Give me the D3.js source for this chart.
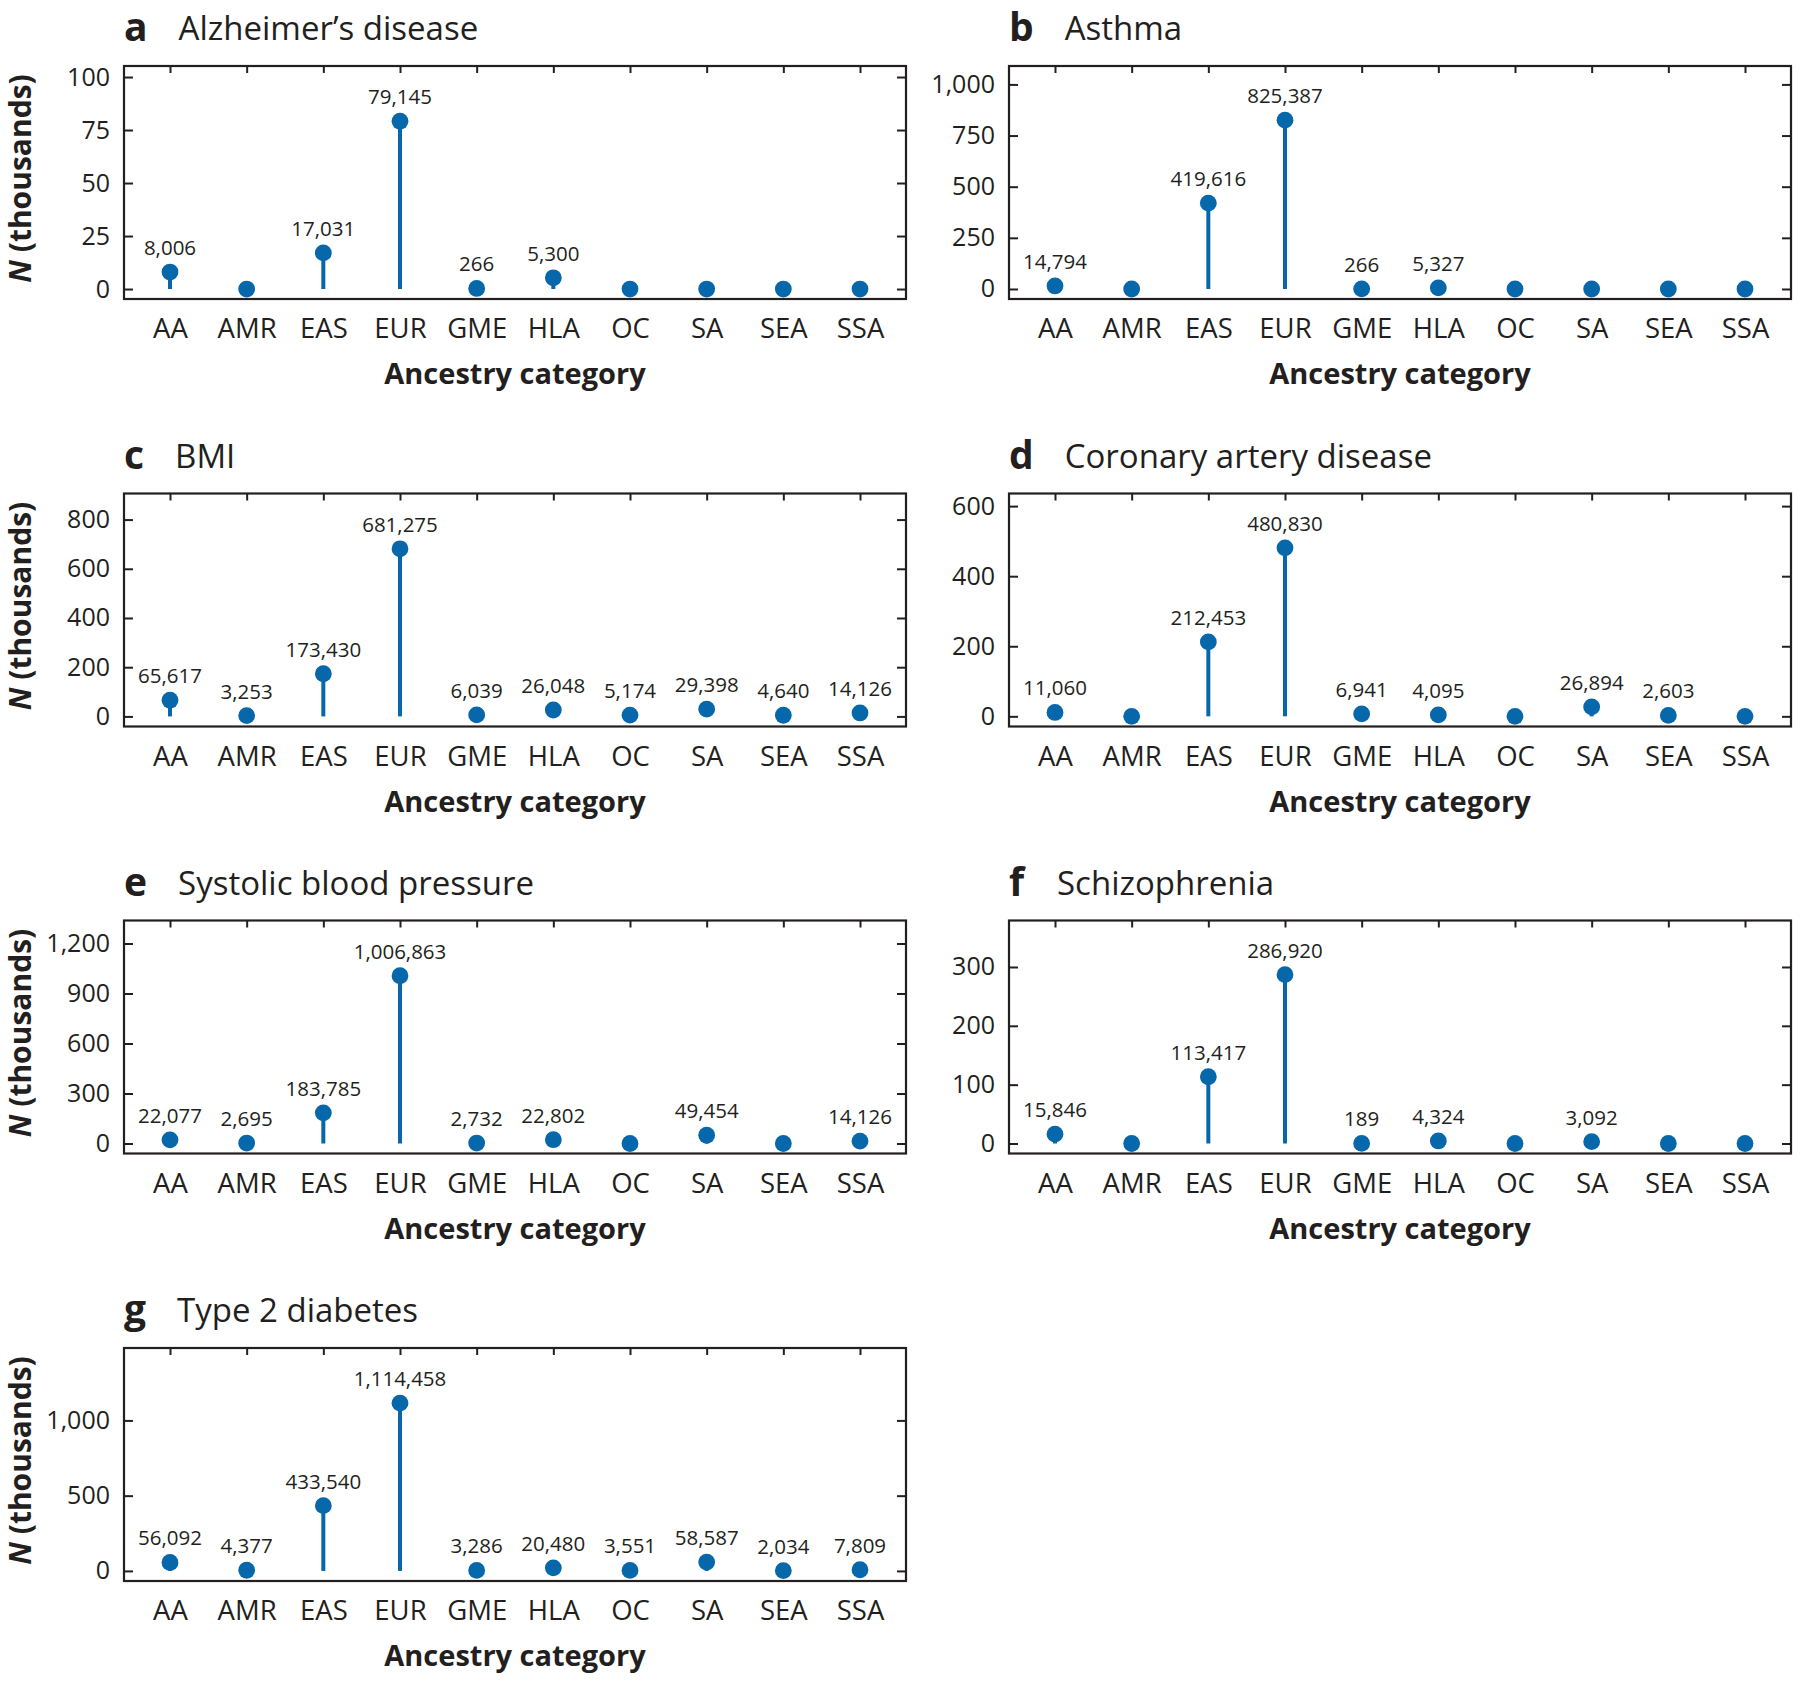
<!DOCTYPE html>
<html><head><meta charset="utf-8">
<script src="https://cdn.jsdelivr.net/npm/d3@7"></script>
<style>
body{margin:0;background:#fff}
text{font-family:"Open Sans",sans-serif;fill:#231f20}
</style>
</head><body><svg id="chart" width="1800" height="1682"></svg>
<script>
const categories = ["AA","AMR","EAS","EUR","GME","HLA","OC","SA","SEA","SSA"];
const panelLetters = ["a","b","c","d","e","f","g"];
const panelTitles = ["Alzheimer\u2019s disease","Asthma","BMI","Coronary artery disease","Systolic blood pressure","Schizophrenia","Type 2 diabetes"];

// sample sizes (N) per ancestry category
const alzheimers   = [8006, 0, 17031, 79145, 266, 5300, 0, 0, 0, 0];
const asthma       = [14794, 0, 419616, 825387, 266, 5327, 0, 0, 0, 0];
const bmi          = [65617, 3253, 173430, 681275, 6039, 26048, 5174, 29398, 4640, 14126];
const coronary     = [11060, 0, 212453, 480830, 6941, 4095, 0, 26894, 2603, 0];
const systolicBP   = [22077, 2695, 183785, 1006863, 2732, 22802, 0, 49454, 0, 14126];
const schizophrenia= [15846, 0, 113417, 286920, 189, 4324, 0, 3092, 0, 0];
const type2diabetes= [56092, 4377, 433540, 1114458, 3286, 20480, 3551, 58587, 2034, 7809];
const panelValues = [alzheimers, asthma, bmi, coronary, systolicBP, schizophrenia, type2diabetes];

// y-axis tick labels (thousands) and axis ranges (thousands)
const yTicksA = [0,25,50,75,100];
const yTicksB = [0,250,500,750,1000];
const yTicksC = [0,200,400,600,800];
const yTicksD = [0,200,400,600];
const yTicksE = [0,300,600,900,1200];
const yTicksF = [0,100,200,300];
const yTicksG = [0,500,1000];
const panelTicks = [yTicksA,yTicksB,yTicksC,yTicksD,yTicksE,yTicksF,yTicksG];
const yRanges = [[-4.7,105.2],[-49,1090],[-41,906],[-29,636],[-60,1338],[-17,379],[-67,1481]];

const svg = d3.select("#chart");
const colX = [124, 1009];
const rowY = [66, 493.5, 920.5, 1348];
const W = 782, H = 233;
const blue = "#0767ab";
const ink = "#231f20";
const fmt = d3.format(",");

panelValues.forEach((vals, i) => {
  const col = i % 2, row = Math.floor(i / 2);
  const g = svg.append("g").attr("transform", `translate(${colX[col]},${rowY[row]})`);
  const x = d3.scalePoint(categories, [0, W]).padding(0.6);
  const y = d3.scaleLinear(yRanges[i], [H, 0]);

  // left axis with labels
  const la = g.append("g").call(d3.axisLeft(y).tickValues(panelTicks[i]).tickSize(-9).tickPadding(14).tickFormat(fmt));
  la.select(".domain").remove();
  la.selectAll("line").attr("stroke", ink).attr("stroke-width", 2);
  la.selectAll("text").attr("font-size", 25).attr("font-family", "Open Sans").attr("fill", ink);

  // right axis ticks
  const ra = g.append("g").attr("transform", `translate(${W},0)`)
    .call(d3.axisRight(y).tickValues(panelTicks[i]).tickSize(-9).tickFormat(""));
  ra.select(".domain").remove();
  ra.selectAll("line").attr("stroke", ink).attr("stroke-width", 2);

  // top axis ticks
  const ta = g.append("g").call(d3.axisTop(x).tickSize(-7).tickFormat(""));
  ta.select(".domain").remove();
  ta.selectAll("line").attr("stroke", ink).attr("stroke-width", 2);

  // bottom axis labels
  const ba = g.append("g").attr("transform", `translate(0,${H})`).call(d3.axisBottom(x).tickSize(0));
  ba.select(".domain").remove();
  ba.selectAll("text").attr("y", 39).attr("dy", null).attr("font-size", 27.5)
    .attr("font-family", "Open Sans").attr("fill", ink);

  // frame
  g.append("rect").attr("width", W).attr("height", H)
    .attr("fill", "none").attr("stroke", ink).attr("stroke-width", 2.2);

  const data = categories.map((c, k) => ({c, v: vals[k]}));
  g.selectAll(".stem").data(data).join("line")
    .attr("x1", d => x(d.c)).attr("x2", d => x(d.c))
    .attr("y1", y(0)).attr("y2", d => y(d.v / 1000))
    .attr("stroke", blue).attr("stroke-width", 4);
  g.selectAll(".dot").data(data).join("circle")
    .attr("cx", d => x(d.c)).attr("cy", d => y(d.v / 1000)).attr("r", 8.4)
    .attr("fill", blue);
  g.selectAll(".vlab").data(data.filter(d => d.v > 0)).join("text")
    .attr("x", d => x(d.c)).attr("y", d => y(d.v / 1000) - 17)
    .attr("text-anchor", "middle").attr("font-size", 20.5).text(d => fmt(d.v));

  // x title
  g.append("text").attr("x", W / 2).attr("y", H + 85).attr("text-anchor", "middle")
    .attr("font-size", 29).attr("font-weight", "bold").text("Ancestry category");

  // y title (left column)
  if (col === 0) {
    const yt = g.append("text").attr("transform", `translate(${31 - colX[0]},${H / 2 - 4}) rotate(-90)`)
      .attr("text-anchor", "middle").attr("font-size", 30).attr("font-weight", "bold");
    yt.append("tspan").attr("font-style", "italic").text("N");
    yt.append("tspan").text(" (thousands)");
  }

  // panel letter + title
  const lt = g.append("text").attr("x", 0).attr("y", -25).attr("font-size", 39)
    .attr("font-weight", "bold").text(panelLetters[i]);
  const lw = lt.node().getBBox().width;
  g.append("text").attr("x", lw + 31).attr("y", -26).attr("font-size", 33)
    .text(panelTitles[i]);
});
</script>
</body></html>
